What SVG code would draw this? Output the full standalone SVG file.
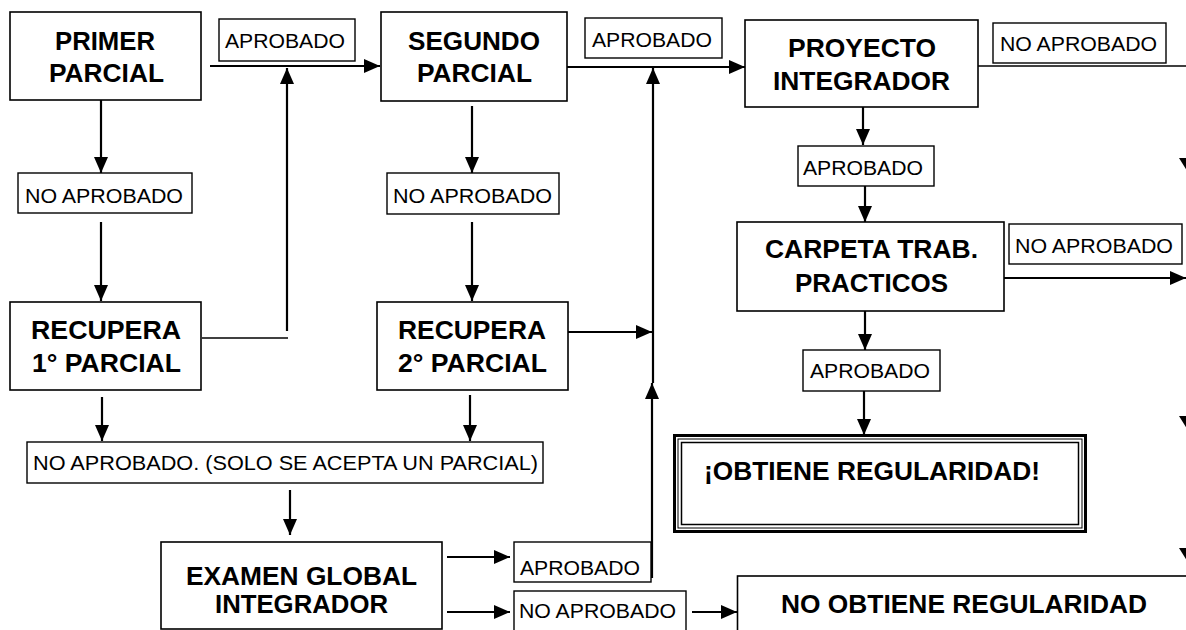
<svg xmlns="http://www.w3.org/2000/svg" width="1186" height="630" viewBox="0 0 1186 630">
<defs>
<style>
.box{fill:#fff;stroke:#000;stroke-width:1.6}
.lbl{fill:#fff;stroke:#000;stroke-width:1.4}
.t{font-family:"Liberation Sans",Arial,sans-serif;font-weight:bold;font-size:25px;fill:#000}
.r{font-family:"Liberation Sans",Arial,sans-serif;font-size:20.5px;fill:#000}
.c{stroke:#000;stroke-width:2;fill:none}
.ca{stroke:#000;stroke-width:2.2;fill:none;marker-end:url(#ah)}
.thin{stroke:#000;stroke-width:1.5;fill:none}
</style>
<marker id="ah" markerUnits="userSpaceOnUse" markerWidth="16" markerHeight="14" refX="16" refY="7" orient="auto">
<path d="M0,0 L16,7 L0,14 z" fill="#000"/>
</marker>
</defs>
<rect width="1186" height="630" fill="#fff"/>

<g id="connectors">
<line class="ca" x1="210" y1="66" x2="380" y2="66"/>
<line class="ca" x1="287" y1="331" x2="287" y2="68"/>
<line class="thin" x1="202" y1="338" x2="288" y2="338"/>
<line class="ca" x1="101" y1="100" x2="101" y2="173"/>
<line class="ca" x1="101" y1="222" x2="101" y2="301"/>
<line class="ca" x1="567" y1="67" x2="745" y2="67"/>
<line class="ca" x1="472" y1="106" x2="472" y2="173"/>
<line class="ca" x1="472" y1="222" x2="472" y2="301"/>
<line class="ca" x1="568" y1="332" x2="652" y2="332"/>
<line class="ca" x1="653" y1="383" x2="653" y2="68"/>
<line class="ca" x1="652" y1="578" x2="652" y2="383"/>
<line class="ca" x1="102" y1="397" x2="102" y2="441"/>
<line class="ca" x1="470" y1="395" x2="470" y2="441"/>
<line class="ca" x1="290" y1="490" x2="290" y2="535"/>
<line class="ca" x1="447" y1="557" x2="510" y2="557"/>
<line class="ca" x1="447" y1="612" x2="510" y2="612"/>
<line class="ca" x1="692" y1="612" x2="737" y2="612"/>
<line class="thin" x1="978" y1="66" x2="1186" y2="66"/>
<line class="ca" x1="863" y1="107" x2="863" y2="145"/>
<line class="ca" x1="865" y1="186" x2="865" y2="222"/>
<line class="ca" x1="1004" y1="278" x2="1186" y2="278"/>
<line class="ca" x1="865" y1="311" x2="865" y2="350"/>
<line class="ca" x1="864" y1="391" x2="864" y2="435"/>
<path d="M1179,158 L1199,158 L1189,174 z" fill="#000"/>
<path d="M1179,416 L1199,416 L1189,432 z" fill="#000"/>
<path d="M1179,548 L1199,548 L1189,564 z" fill="#000"/>
</g>

<g id="primer">
<rect class="box" x="10" y="12" width="191" height="88"/>
<text class="t" x="55" y="50" textLength="100" lengthAdjust="spacingAndGlyphs">PRIMER</text>
<text class="t" x="49" y="82" textLength="115" lengthAdjust="spacingAndGlyphs">PARCIAL</text>
</g>
<g id="lbl-aprobado-1">
<rect class="lbl" x="219" y="19" width="136" height="42"/>
<text class="r" x="225" y="48" textLength="120" lengthAdjust="spacingAndGlyphs">APROBADO</text>
</g>
<g id="segundo">
<rect class="box" x="381" y="12" width="186" height="89"/>
<text class="t" x="408" y="50" textLength="132" lengthAdjust="spacingAndGlyphs">SEGUNDO</text>
<text class="t" x="417" y="82" textLength="115" lengthAdjust="spacingAndGlyphs">PARCIAL</text>
</g>
<g id="lbl-aprobado-2">
<rect class="lbl" x="585" y="18" width="137" height="40"/>
<text class="r" x="592" y="47" textLength="120" lengthAdjust="spacingAndGlyphs">APROBADO</text>
</g>
<g id="proyecto">
<rect class="box" x="745" y="20" width="233" height="87"/>
<text class="t" x="788" y="57" textLength="148" lengthAdjust="spacingAndGlyphs">PROYECTO</text>
<text class="t" x="773" y="90" textLength="177" lengthAdjust="spacingAndGlyphs">INTEGRADOR</text>
</g>
<g id="lbl-noaprobado-proy">
<rect class="lbl" x="993" y="23" width="173" height="40"/>
<text class="r" x="1000" y="51" textLength="157" lengthAdjust="spacingAndGlyphs">NO APROBADO</text>
</g>
<g id="lbl-noaprobado-1">
<rect class="lbl" x="18" y="173" width="174" height="40"/>
<text class="r" x="25" y="203" textLength="158" lengthAdjust="spacingAndGlyphs">NO APROBADO</text>
</g>
<g id="lbl-noaprobado-2">
<rect class="lbl" x="387" y="173" width="172" height="41"/>
<text class="r" x="393" y="203" textLength="159" lengthAdjust="spacingAndGlyphs">NO APROBADO</text>
</g>
<g id="lbl-aprobado-proy">
<rect class="lbl" x="798" y="146" width="136" height="40"/>
<text class="r" x="803" y="175" textLength="120" lengthAdjust="spacingAndGlyphs">APROBADO</text>
</g>
<g id="carpeta">
<rect class="box" x="737" y="222" width="267" height="89"/>
<text class="t" x="765" y="258" textLength="213" lengthAdjust="spacingAndGlyphs">CARPETA TRAB.</text>
<text class="t" x="795" y="292" textLength="153" lengthAdjust="spacingAndGlyphs">PRACTICOS</text>
</g>
<g id="lbl-noaprobado-carp">
<rect class="lbl" x="1009" y="224" width="173" height="40"/>
<text class="r" x="1015" y="253" textLength="158" lengthAdjust="spacingAndGlyphs">NO APROBADO</text>
</g>
<g id="lbl-aprobado-carp">
<rect class="lbl" x="803" y="350" width="137" height="41"/>
<text class="r" x="810" y="378" textLength="120" lengthAdjust="spacingAndGlyphs">APROBADO</text>
</g>
<g id="recupera1">
<rect class="box" x="10" y="302" width="191" height="88"/>
<text class="t" x="31" y="339" textLength="150" lengthAdjust="spacingAndGlyphs">RECUPERA</text>
<text class="t" x="32" y="372" textLength="149" lengthAdjust="spacingAndGlyphs">1° PARCIAL</text>
</g>
<g id="recupera2">
<rect class="box" x="377" y="302" width="191" height="88"/>
<text class="t" x="398" y="339" textLength="148" lengthAdjust="spacingAndGlyphs">RECUPERA</text>
<text class="t" x="398" y="372" textLength="149" lengthAdjust="spacingAndGlyphs">2° PARCIAL</text>
</g>
<g id="lbl-noaprobado-solo">
<rect class="lbl" x="27" y="442" width="516" height="41"/>
<text class="r" x="33" y="470" textLength="505" lengthAdjust="spacingAndGlyphs">NO APROBADO. (SOLO SE ACEPTA UN PARCIAL)</text>
</g>
<g id="obtiene">
<rect x="674.5" y="435.5" width="411" height="96" fill="#fff" stroke="#000" stroke-width="3"/>
<rect x="678" y="439" width="404" height="89" fill="none" stroke="#000" stroke-width="1"/>
<rect x="681.5" y="442.5" width="397" height="82" fill="none" stroke="#000" stroke-width="1.5"/>
<text class="t" x="704" y="480" textLength="336" lengthAdjust="spacingAndGlyphs">¡OBTIENE REGULARIDAD!</text>
</g>
<g id="examen">
<rect class="box" x="161" y="542" width="281" height="87"/>
<text class="t" x="186" y="585" textLength="231" lengthAdjust="spacingAndGlyphs">EXAMEN GLOBAL</text>
<text class="t" x="215" y="613" textLength="173" lengthAdjust="spacingAndGlyphs">INTEGRADOR</text>
</g>
<g id="lbl-aprobado-exam">
<rect class="lbl" x="514" y="542" width="137" height="40"/>
<text class="r" x="520" y="575" textLength="120" lengthAdjust="spacingAndGlyphs">APROBADO</text>
</g>
<g id="lbl-noaprobado-exam">
<rect class="lbl" x="514" y="591" width="172" height="42"/>
<text class="r" x="519" y="618" textLength="157" lengthAdjust="spacingAndGlyphs">NO APROBADO</text>
</g>
<g id="no-obtiene">
<rect class="box" x="737.5" y="576" width="460" height="70"/>
<text class="t" x="781" y="613" textLength="366" lengthAdjust="spacingAndGlyphs">NO OBTIENE REGULARIDAD</text>
</g>
</svg>
